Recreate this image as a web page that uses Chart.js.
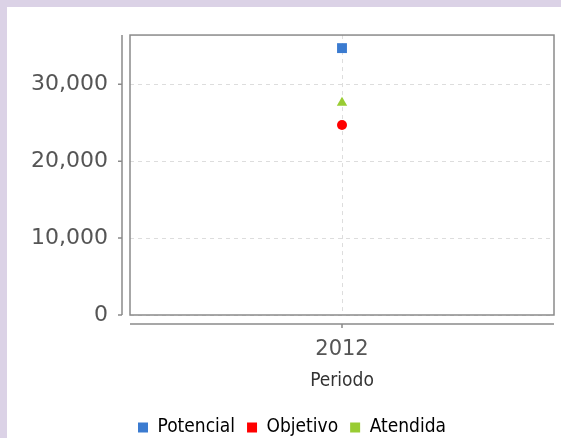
<!DOCTYPE html>
<html>
<head>
<meta charset="utf-8">
<script src="https://cdn.jsdelivr.net/npm/chart.js@4.4.0/dist/chart.umd.min.js"></script>
<style>
    html, body { margin: 0; padding: 0; background: #dbd2e6; overflow: hidden; }
    #panel {
        position: absolute; left: 7px; top: 7px;
        width: 554px; height: 431px; background: #fff; overflow: hidden;
    }
    canvas { display: block; }
</style>
</head>
<body>
<div id="panel"><canvas id="chart" width="554" height="440"></canvas></div>
<script>
const periods = ["2012"];
const potencial = [34700];
const objetivo = [24700];
const atendida = [27600];
const yTicks = [0, 10000, 20000, 30000];

const axisColor = "#8a8a8a";
const narrow = "'DejaVu Sans Condensed', 'Liberation Sans Narrow', 'DejaVu Sans'";

// plot box, detached axis lines and their tick marks
const frame = {
    id: "frame",
    afterDraw(chart) {
        const { ctx, chartArea: a, scales } = chart;
        const gapY = 8, gapX = 9;
        ctx.save();
        ctx.strokeStyle = axisColor;
        ctx.lineWidth = 1.5;
        ctx.strokeRect(a.left, a.top, a.right - a.left, a.bottom - a.top);

        ctx.beginPath();
        ctx.moveTo(a.left - gapY, a.top);
        ctx.lineTo(a.left - gapY, a.bottom);
        yTicks.forEach(v => {
            const y = scales.y.getPixelForValue(v);
            ctx.moveTo(a.left - gapY - 4, y);
            ctx.lineTo(a.left - gapY, y);
        });
        ctx.moveTo(a.left, a.bottom + gapX);
        ctx.lineTo(a.right, a.bottom + gapX);
        periods.forEach((p, i) => {
            const x = scales.x.getPixelForValue(i);
            ctx.moveTo(x, a.bottom + gapX);
            ctx.lineTo(x, a.bottom + gapX + 4);
        });
        ctx.stroke();
        ctx.restore();
    }
};

new Chart(document.getElementById("chart"), {
    type: "line",
    data: {
        labels: periods,
        datasets: [
            {
                label: "Potencial",
                data: potencial,
                showLine: false,
                pointStyle: "rect",
                pointRadius: 7,
                pointHoverRadius: 7,
                borderWidth: 0,
                backgroundColor: "#3b7bd0",
                borderColor: "#3b7bd0"
            },
            {
                label: "Objetivo",
                data: objetivo,
                showLine: false,
                pointStyle: "circle",
                pointRadius: 5,
                pointHoverRadius: 5,
                borderWidth: 0,
                backgroundColor: "#ff0000",
                borderColor: "#ff0000"
            },
            {
                label: "Atendida",
                data: atendida,
                showLine: false,
                pointStyle: "triangle",
                pointRadius: 6,
                pointHoverRadius: 6,
                borderWidth: 0,
                backgroundColor: "#99cc33",
                borderColor: "#99cc33"
            }
        ]
    },
    options: {
        responsive: false,
        animation: false,
        layout: { padding: { top: 28, right: 6, left: 22, bottom: 0 } },
        plugins: {
            tooltip: { enabled: false },
            legend: {
                position: "bottom",
                labels: {
                    color: "#333",
                    boxWidth: 10,
                    boxHeight: 10,
                    padding: 12,
                    font: { family: narrow, size: 19 },
                    generateLabels: chart => chart.data.datasets.map((d, i) => ({
                        text: d.label,
                        fillStyle: d.backgroundColor,
                        strokeStyle: d.backgroundColor,
                        lineWidth: 0,
                        datasetIndex: i
                    }))
                }
            }
        },
        scales: {
            x: {
                offset: true,
                border: { display: false, dash: [4, 4] },
                afterFit: s => { s.height = 91; },
                grid: {
                    drawTicks: false,
                    color: "#dddddd",
                    lineWidth: 1
                },
                ticks: {
                    color: "#555",
                    padding: 22,
                    font: { family: "'DejaVu Sans'", size: 21 }
                },
                title: {
                    display: true,
                    text: "Periodo",
                    color: "#333",
                    padding: { top: 0, bottom: 14 },
                    font: { family: narrow, size: 19 }
                }
            },
            y: {
                min: 0,
                max: 36400,
                border: { display: false, dash: [4, 4] },
                afterFit: s => { s.width = 101; },
                afterBuildTicks: s => { s.ticks = yTicks.map(v => ({ value: v })); },
                grid: {
                    drawTicks: false,
                    color: "#dddddd",
                    lineWidth: 1
                },
                ticks: {
                    color: "#555",
                    padding: 22,
                    font: { family: "'DejaVu Sans'", size: 22, lineHeight: 0.55 },
                    callback: v => v.toLocaleString("en-US")
                }
            }
        }
    },
    plugins: [frame]
});
</script>
</body>
</html>
